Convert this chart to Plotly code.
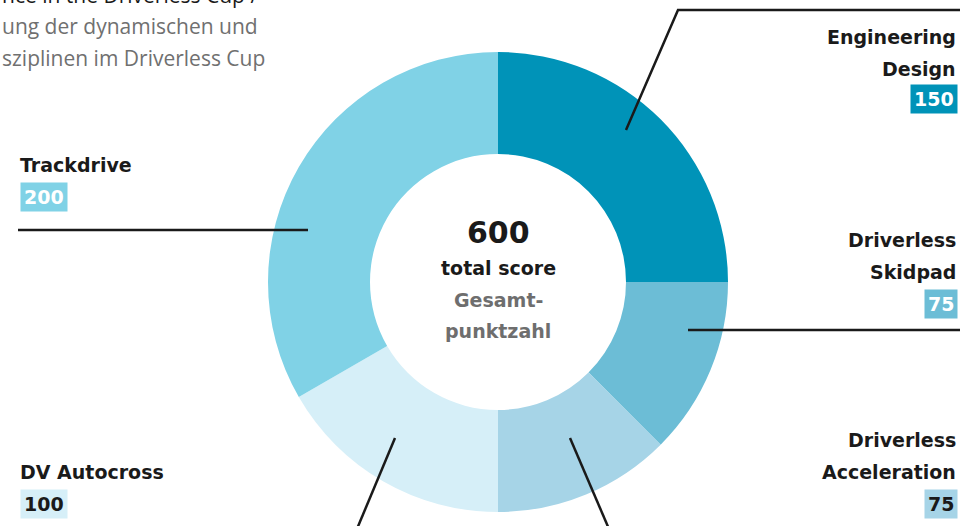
import plotly.graph_objects as go

# ---- data ----
disciplines = ["Engineering Design", "Driverless Skidpad", "Driverless Acceleration",
               "DV Autocross", "Trackdrive"]
label_lines = [["Engineering", "Design"], ["Driverless", "Skidpad"],
               ["Driverless", "Acceleration"], ["DV Autocross"], ["Trackdrive"]]
points = [150, 75, 75, 100, 200]
colors = ["#0093b8", "#6cbdd6", "#a6d4e7", "#d6eff8", "#80d2e6"]
value_text_colors = ["#ffffff", "#ffffff", "#1a1a1a", "#1a1a1a", "#ffffff"]
total = sum(points)

W, H = 960, 526
def px(x):
    return x / W
def py(y):
    return 1 - y / H

cx, cy, R = 498, 282, 230

fig = go.Figure(go.Pie(
    labels=disciplines,
    values=points,
    sort=False,
    direction="clockwise",
    rotation=0,
    hole=128 / 230,
    marker=dict(colors=colors, line=dict(width=0)),
    textinfo="none",
    hoverinfo="label+value",
    showlegend=False,
    domain=dict(x=[px(cx - R), px(cx + R)], y=[py(cy + R), py(cy - R)]),
))

LBL = dict(family="'DejaVu Sans', sans-serif", size=19, color="#1a1a1a", weight=700)
annotations = []
shapes = []

# label positions (layout): (anchor side, x, y of first line, value box y)
layout_pos = [
    ("right", 958, 37, 99),
    ("right", 958, 240, 304),
    ("right", 958, 440, 504),
    ("left", 18, 472, 504),
    ("left", 18, 165, 197),
]
for lines, val, col, tcol, (side, x, y0, yv) in zip(label_lines, points, colors,
                                                     value_text_colors, layout_pos):
    for i, ln in enumerate(lines):
        annotations.append(dict(x=px(x), y=py(y0 + 32 * i), xref="paper", yref="paper",
                                text=ln, showarrow=False, xanchor=side, yanchor="middle",
                                font=LBL))
    annotations.append(dict(x=px(x + (2 if side == "left" else 0)), y=py(yv),
                            xref="paper", yref="paper",
                            text=str(val), showarrow=False, xanchor=side, yanchor="middle",
                            font=dict(LBL, color=tcol), bgcolor=col, borderpad=3))

# leader lines
line_style = dict(color="#1a1a1a", width=2.5)
leaders = [
    [(626, 130), (678, 10), (970, 10)],
    [(688, 330), (970, 330)],
    [(570, 438), (612, 536)],
    [(395, 438), (354, 536)],
    [(308, 230), (18, 230)],
]
for pts in leaders:
    path = "M " + " L ".join(f"{px(a)},{py(b)}" for a, b in pts)
    shapes.append(dict(type="path", xref="paper", yref="paper", path=path,
                       line=line_style))

# centre texts
center = [
    (str(total), 232, 30, "#1a1a1a"),
    ("total score", 268, 19, "#1a1a1a"),
    ("Gesamt-", 300, 19, "#6e6e6e"),
    ("punktzahl", 331, 19, "#6e6e6e"),
]
for t, y, s, c in center:
    annotations.append(dict(x=px(cx), y=py(y), xref="paper", yref="paper", text=t,
                            showarrow=False, xanchor="center", yanchor="middle",
                            font=dict(LBL, size=s, color=c)))

# title block fragments, as visible at the top-left edge
TF = dict(family="'Open Sans', sans-serif", size=21, color="#707070")
title_lines = [
    ("nce in the Driverless Cup /", -5, "#1a1a1a"),
    ("ung der dynamischen und", 26, "#707070"),
    ("sziplinen im Driverless Cup", 58, "#707070"),
]
for t, y, c in title_lines:
    annotations.append(dict(x=px(0), y=py(y), xref="paper", yref="paper", text=t,
                            showarrow=False, xanchor="left", yanchor="middle",
                            font=dict(TF, color=c)))

fig.update_layout(
    width=W, height=H,
    margin=dict(l=0, r=0, t=0, b=0),
    paper_bgcolor="white", plot_bgcolor="white",
    annotations=annotations, shapes=shapes,
)
fig.write_html("out.html", config={"displayModeBar": False},
               post_script="document.body.style.margin='0';document.body.style.overflow='hidden';")
